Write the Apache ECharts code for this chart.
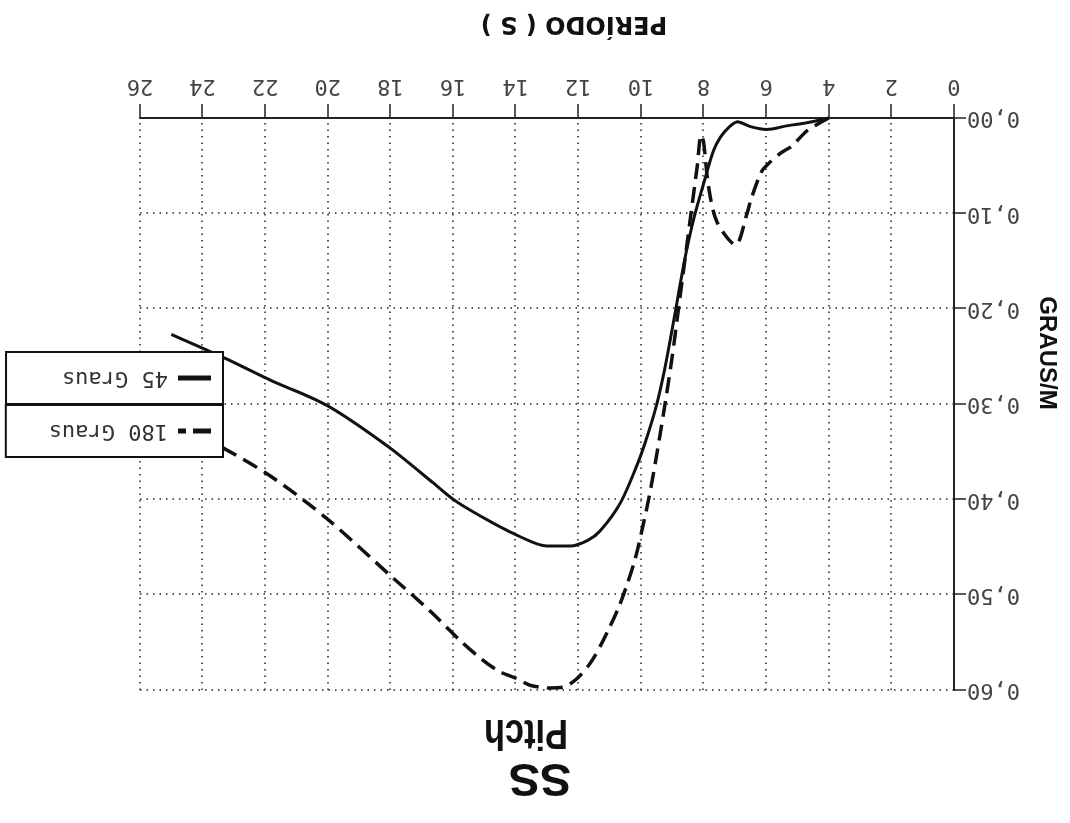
<!DOCTYPE html>
<html>
<head>
<meta charset="utf-8">
<script src="https://cdn.jsdelivr.net/npm/echarts@6/dist/echarts.min.js"></script>
<style>
  html, body { margin: 0; padding: 0; background: #fff; }
  /* the scanned original is upside down, so the whole chart is turned */
  #chart { width: 1070px; height: 823px; transform: rotate(180deg); }
</style>
</head>
<body>
<div id="chart"></div>
<script>
// periodo (s) e resposta (graus/m)
const period45 = [4.0, 4.7, 5.3, 6.0, 6.5, 6.92, 7.2, 7.46, 7.68, 8.0, 8.3, 8.55, 8.75, 8.9, 9.06, 9.27, 9.5, 9.8, 10.1, 10.66, 11.3, 11.7, 12.25, 13.0, 14.0, 15.1, 16.0, 16.7, 18.1, 20.0, 21.9, 23.35, 25.0]
const graus45 = [0.000, 0.005, 0.008, 0.012, 0.009, 0.004, 0.010, 0.020, 0.034, 0.069, 0.104, 0.140, 0.175, 0.203, 0.232, 0.268, 0.301, 0.334, 0.362, 0.404, 0.433, 0.443, 0.449, 0.449, 0.437, 0.418, 0.400, 0.381, 0.344, 0.302, 0.274, 0.251, 0.227]

const period180 = [4.0, 4.68, 5.2, 5.55, 6.08, 6.24, 6.5, 6.61, 6.98, 7.57, 7.84, 8.0, 8.08, 8.2, 8.4, 8.6, 8.8, 9.0, 9.22, 9.49, 9.7, 9.91, 10.18, 10.45, 10.72, 11.04, 11.3, 11.6, 12.04, 12.48, 12.9, 13.54, 13.97, 14.5, 15.04, 15.78, 16.74, 17.9, 20.04, 21.86, 23.35, 25.0]
const graus180 = [0.000, 0.013, 0.030, 0.037, 0.053, 0.063, 0.087, 0.100, 0.133, 0.109, 0.072, 0.025, 0.018, 0.050, 0.100, 0.150, 0.200, 0.250, 0.298, 0.352, 0.391, 0.424, 0.462, 0.490, 0.514, 0.537, 0.554, 0.571, 0.588, 0.597, 0.598, 0.595, 0.588, 0.581, 0.569, 0.548, 0.517, 0.483, 0.420, 0.375, 0.346, 0.318]

const xTicks = [0, 2, 4, 6, 8, 10, 12, 14, 16, 18, 20, 22, 24, 26]
const yTicks = ['0,00', '0,10', '0,20', '0,30', '0,40', '0,50', '0,60']

const tickFont = {
  color: '#444',
  fontFamily: 'DejaVu Sans Mono',
  fontSize: 22
}
const legendText = { color: '#333', fontFamily: 'DejaVu Sans Mono', fontSize: 22, padding: [0, 0, 0, 5] }

var myChart = echarts.init(document.getElementById('chart'))
myChart.setOption({
  animation: false,
  backgroundColor: '#fff',
  graphic: [
    {
      type: 'text',
      x: 530,
      y: 23,
      style: {
        text: 'SS',
        font: 'bold 47px "Liberation Sans"',
        fill: '#111',
        textAlign: 'center',
        textVerticalAlign: 'top'
      }
    },
    {
      type: 'text',
      x: 544,
      y: 70,
      scaleX: 0.8,
      style: {
        text: 'Pitch',
        font: 'bold 43px "Liberation Sans"',
        fill: '#111',
        textAlign: 'center',
        textVerticalAlign: 'top'
      }
    }
  ],
  legend: [
    {
      data: [{ name: '180 Graus', icon: 'path://M0,0H18V5H0Z M25,0H33V5H25Z' }],
      left: 847,
      top: 366,
      padding: [15, 43, 15, 12],
      itemWidth: 33,
      itemHeight: 5,
      borderColor: '#111',
      borderWidth: 2,
      backgroundColor: '#fff',
      itemStyle: { color: '#111' },
      textStyle: legendText
    },
    {
      data: [{ name: '45 Graus', icon: 'path://M0,0H33V5H0Z' }],
      left: 847,
      top: 419,
      padding: [15, 56, 15, 12],
      itemWidth: 33,
      itemHeight: 5,
      borderColor: '#111',
      borderWidth: 2,
      backgroundColor: '#fff',
      itemStyle: { color: '#111' },
      textStyle: legendText
    }
  ],
  grid: {
    left: 116,
    right: 140,
    top: 133,
    bottom: 118
  },
  xAxis: {
    type: 'value',
    min: xTicks[0],
    max: xTicks[xTicks.length - 1],
    interval: xTicks[1] - xTicks[0],
    name: 'PERÍODO ( S )',
    nameLocation: 'middle',
    nameGap: 83,
    nameMoveOverlap: false,
    nameTextStyle: {
      fontFamily: 'DejaVu Sans',
      fontWeight: 'bold',
      fontSize: 24,
      color: '#111',
      padding: [0, 54, 0, 0]
    },
    axisLine: { show: true, lineStyle: { color: '#222', width: 2 } },
    axisTick: { show: true, length: 14, lineStyle: { color: '#222', width: 1.5 } },
    axisLabel: Object.assign({ margin: 21 }, tickFont),
    splitLine: {
      show: true,
      lineStyle: { color: '#222', width: 1.5, type: [1.5, 5] }
    }
  },
  yAxis: {
    type: 'value',
    min: 0,
    max: 0.6,
    interval: 0.1,
    name: 'GRAUS/M',
    nameLocation: 'middle',
    nameGap: 81,
    nameMoveOverlap: false,
    nameTextStyle: {
      fontFamily: 'Liberation Sans',
      fontWeight: 'bold',
      fontSize: 24,
      color: '#111',
      padding: [0, 102, 0, 0]
    },
    axisLine: { show: true, lineStyle: { color: '#222', width: 2 } },
    axisTick: { show: true, length: 12, lineStyle: { color: '#222', width: 1.5 } },
    axisLabel: Object.assign({
      margin: 13,
      formatter: function (value) {
        return yTicks[Math.round(value * 10)]
      }
    }, tickFont),
    splitLine: {
      show: true,
      lineStyle: { color: '#222', width: 1.5, type: [1.5, 5] }
    }
  },
  series: [
    {
      name: '45 Graus',
      type: 'line',
      symbol: 'none',
      smooth: 0.3,
      lineStyle: { color: '#111', width: 3 },
      itemStyle: { color: '#111' },
      data: period45.map((p, i) => [p, graus45[i]])
    },
    {
      name: '180 Graus',
      type: 'line',
      symbol: 'none',
      smooth: 0.3,
      lineStyle: { color: '#111', width: 3.5, type: [16, 8] },
      itemStyle: { color: '#111' },
      data: period180.map((p, i) => [p, graus180[i]])
    }
  ]
})
</script>
</body>
</html>
